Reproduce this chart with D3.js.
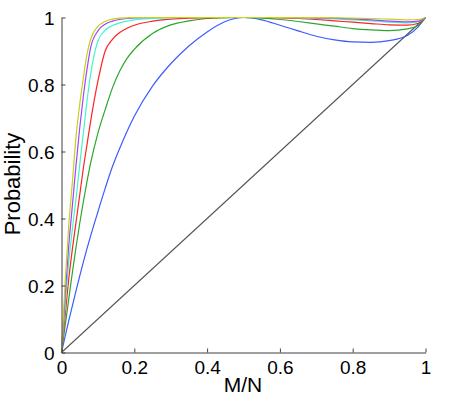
<!DOCTYPE html>
<html>
<head>
<meta charset="utf-8">
<script src="https://cdn.jsdelivr.net/npm/d3@7"></script>
<style>
  html, body { margin: 0; padding: 0; background: #fff; }
  svg { display: block; }
  text { font-family: "Liberation Sans", Arial, Helvetica, sans-serif; }
</style>
</head>
<body>
<svg id="chart" width="454" height="398"></svg>
<script>
// ---- data ----
const xs = [0, 0.01, 0.02, 0.03, 0.04, 0.05, 0.06, 0.07, 0.08, 0.1, 0.12, 0.14, 0.16, 0.18, 0.2,
  0.25, 0.3, 0.35, 0.4, 0.45, 0.5, 0.55, 0.6, 0.65, 0.7, 0.75, 0.8, 0.85, 0.9, 0.95, 0.98, 1];

const blueVals = [0, 0.048, 0.095, 0.14, 0.185, 0.228, 0.27, 0.31, 0.348, 0.42, 0.49, 0.555, 0.61, 0.66, 0.705,
  0.795, 0.862, 0.915, 0.957, 0.988, 1.0, 0.993, 0.977, 0.96, 0.944, 0.933, 0.927, 0.926, 0.931, 0.946, 0.972, 1];
const greenVals = [0, 0.08, 0.16, 0.24, 0.315, 0.385, 0.45, 0.51, 0.565, 0.655, 0.725, 0.79, 0.84, 0.878, 0.905,
  0.952, 0.978, 0.99, 0.997, 0.999, 1, 0.998, 0.994, 0.988, 0.981, 0.974, 0.967, 0.963, 0.961, 0.966, 0.976, 1];
const redVals = [0, 0.11, 0.22, 0.31, 0.39, 0.47, 0.55, 0.62, 0.69, 0.81, 0.9, 0.935, 0.955, 0.968, 0.977,
  0.989, 0.995, 0.998, 0.999, 1, 1, 1, 0.999, 0.997, 0.994, 0.99, 0.986, 0.982, 0.978, 0.977, 0.983, 1];
const cyanVals = [0, 0.14, 0.27, 0.37, 0.46, 0.56, 0.655, 0.75, 0.83, 0.93, 0.962, 0.976, 0.984, 0.989, 0.993,
  0.997, 0.999, 1, 1, 1, 1, 1, 1, 0.999, 0.998, 0.996, 0.993, 0.99, 0.986, 0.984, 0.987, 1];
const purpleVals = [0, 0.17, 0.32, 0.44, 0.56, 0.67, 0.765, 0.845, 0.91, 0.96, 0.98, 0.989, 0.994, 0.997, 0.999,
  1, 1, 1, 1, 1, 1, 1, 1, 1, 0.999, 0.998, 0.996, 0.993, 0.989, 0.987, 0.989, 1];
const yellowVals = [0, 0.21, 0.38, 0.51, 0.645, 0.74, 0.82, 0.89, 0.935, 0.973, 0.988, 0.995, 0.998, 0.999, 1,
  1, 1, 1, 1, 1, 1, 1, 1, 1, 1, 0.999, 0.998, 0.997, 0.995, 0.993, 0.994, 1];
const diagX = [0, 1];
const diagY = [0, 1];

const seriesNames = ["blue", "green", "red", "cyan", "purple", "yellow"];
const seriesValues = [blueVals, greenVals, redVals, cyanVals, purpleVals, yellowVals];
const seriesColors = ["#3c5cff", "#2aa82a", "#ff2222", "#45f5c8", "#a044ff", "#c4d21a"];

const tickValues = [0, 0.2, 0.4, 0.6, 0.8, 1];
const tickLabels = ["0", "0.2", "0.4", "0.6", "0.8", "1"];
const xLabel = "M/N";
const yLabel = "Probability";

// ---- drawing ----
const svg = d3.select("#chart");
const x = d3.scaleLinear().domain([0, 1]).range([61.5, 425.5]);
const y = d3.scaleLinear().domain([0, 1]).range([352.5, 17.5]);

const line = d3.line()
  .x(d => x(d[0]))
  .y(d => y(d[1]))
  .curve(d3.curveMonotoneX);

// diagonal
svg.append("path")
  .datum(d3.zip(diagX, diagY))
  .attr("d", d3.line().x(d => x(d[0])).y(d => y(d[1])))
  .attr("fill", "none")
  .attr("stroke", "#555")
  .attr("stroke-width", 1.1);

seriesValues.forEach((vals, i) => {
  svg.append("path")
    .datum(d3.zip(xs, vals))
    .attr("class", "series " + seriesNames[i])
    .attr("d", line)
    .attr("fill", "none")
    .attr("stroke", seriesColors[i])
    .attr("stroke-width", 1.2);
});

const fmt = v => tickLabels[tickValues.indexOf(v)];

const xAxis = svg.append("g")
  .attr("transform", `translate(0,${y(0)})`)
  .call(d3.axisBottom(x).tickValues(tickValues).tickFormat(fmt).tickSize(-4).tickSizeOuter(0).tickPadding(8));
const yAxis = svg.append("g")
  .attr("transform", `translate(${x(0)},0)`)
  .call(d3.axisLeft(y).tickValues(tickValues).tickFormat(fmt).tickSize(-4).tickSizeOuter(0).tickPadding(7));

[xAxis, yAxis].forEach(g => {
  g.select(".domain").attr("stroke", "#404040").attr("stroke-width", 1);
  g.selectAll(".tick line").attr("stroke", "#404040");
  g.selectAll(".tick text").attr("fill", "#000").style("font-size", "19px")
    .style("font-family", "'Liberation Sans', Arial, sans-serif");
});
xAxis.selectAll(".tick text").attr("dy", "0.71em");
yAxis.selectAll(".tick text").attr("dy", "0.35em");

svg.append("text")
  .attr("x", 243)
  .attr("y", 392)
  .attr("text-anchor", "middle")
  .style("font-size", "21px")
  .text(xLabel);

svg.append("text")
  .attr("transform", `translate(20,184) rotate(-90)`)
  .attr("text-anchor", "middle")
  .style("font-size", "22px")
  .text(yLabel);
</script>
</body>
</html>
